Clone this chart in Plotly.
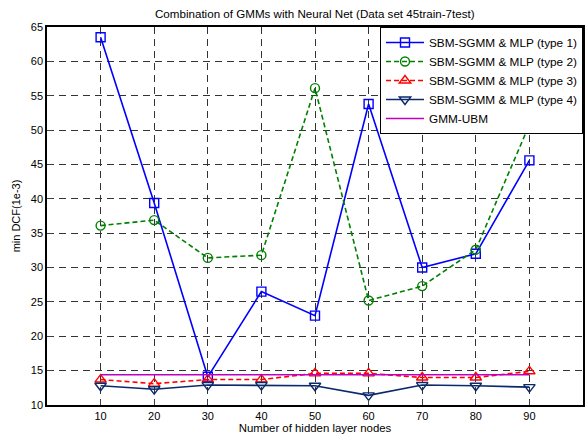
import plotly.graph_objects as go

nodes = [10, 20, 30, 40, 50, 60, 70, 80, 90]
type1 = [63.5, 39.4, 14.1, 26.5, 23.0, 53.8, 30.0, 32.0, 45.6]
type2 = [36.1, 36.9, 31.4, 31.8, 56.1, 25.2, 27.3, 32.6, 50.8]
type3 = [13.7, 13.1, 13.7, 13.7, 14.6, 14.6, 14.0, 14.0, 14.9]
type4 = [12.8, 12.3, 12.9, 12.9, 12.8, 11.4, 12.9, 12.8, 12.6]
gmm_ubm = [14.4] * 9
names = ["SBM-SGMM & MLP (type 1)", "SBM-SGMM & MLP (type 2)",
         "SBM-SGMM & MLP (type 3)", "SBM-SGMM & MLP (type 4)", "GMM-UBM"]
x_ticks = [10, 20, 30, 40, 50, 60, 70, 80, 90]
y_ticks = [10, 15, 20, 25, 30, 35, 40, 45, 50, 55, 60, 65]
title_text = "Combination of GMMs with Neural Net (Data set 45train-7test)"

fig = go.Figure()
fig.add_trace(go.Scatter(x=nodes, y=type1, name=names[0], mode="lines+markers",
                         line=dict(color="#0000ff", width=1.6),
                         marker=dict(symbol="square-open", size=9, color="#0000ff", line=dict(width=1.4))))
fig.add_trace(go.Scatter(x=nodes, y=type2, name=names[1], mode="lines+markers",
                         line=dict(color="#008000", width=1.6, dash="5px,3px"),
                         marker=dict(symbol="circle-open", size=9, color="#008000", line=dict(width=1.4))))
fig.add_trace(go.Scatter(x=nodes, y=type3, name=names[2], mode="lines+markers",
                         line=dict(color="#ff0000", width=1.6, dash="5px,3px"),
                         marker=dict(symbol="triangle-up-open", size=10, color="#ff0000", line=dict(width=1.4))))
fig.add_trace(go.Scatter(x=nodes, y=type4, name=names[3], mode="lines+markers",
                         line=dict(color="#0b2a6b", width=1.6),
                         marker=dict(symbol="triangle-down-open", size=10, color="#0b2a6b", line=dict(width=1.4))))
fig.add_trace(go.Scatter(x=nodes, y=gmm_ubm, name=names[4], mode="lines",
                         line=dict(color="#c000c0", width=1.6)))

fig.update_layout(
    width=585, height=437,
    margin=dict(l=47, r=0, t=27, b=32),
    paper_bgcolor="white", plot_bgcolor="white",
    font=dict(family="Liberation Sans, Arial, sans-serif", size=11, color="black"),
    legend=dict(x=1, xanchor="right", y=1, yanchor="top", bgcolor="white",
                bordercolor="black", borderwidth=1, font=dict(size=11.8),
                tracegroupgap=0, itemwidth=38),
    showlegend=True,
)
fig.add_annotation(text=title_text, xref="paper", yref="paper", x=0.5, y=1,
                   xanchor="center", yanchor="bottom", yshift=5, showarrow=False,
                   font=dict(size=11.6, color="black"))
fig.update_xaxes(range=[0, 100], tickvals=x_ticks, ticks="inside", ticklen=5,
                 showline=True, linecolor="black", linewidth=1.5, mirror=True,
                 showgrid=True, gridcolor="#333333", griddash="7px,5px", gridwidth=1,
                 zeroline=False,
                 title=dict(text="Number of hidden layer nodes", standoff=2, font=dict(size=11.4)))
fig.update_yaxes(range=[10, 65], tickvals=y_ticks, ticks="inside", ticklen=5,
                 showline=True, linecolor="black", linewidth=1.5, mirror=True,
                 showgrid=True, gridcolor="#333333", griddash="7px,5px", gridwidth=1,
                 zeroline=False,
                 title=dict(text="min DCF(1e-3)", standoff=8, font=dict(size=11)))

fig.write_html("out.html", config={"displayModeBar": False},
               post_script="document.body.style.margin='0';document.body.style.overflow='hidden';")
